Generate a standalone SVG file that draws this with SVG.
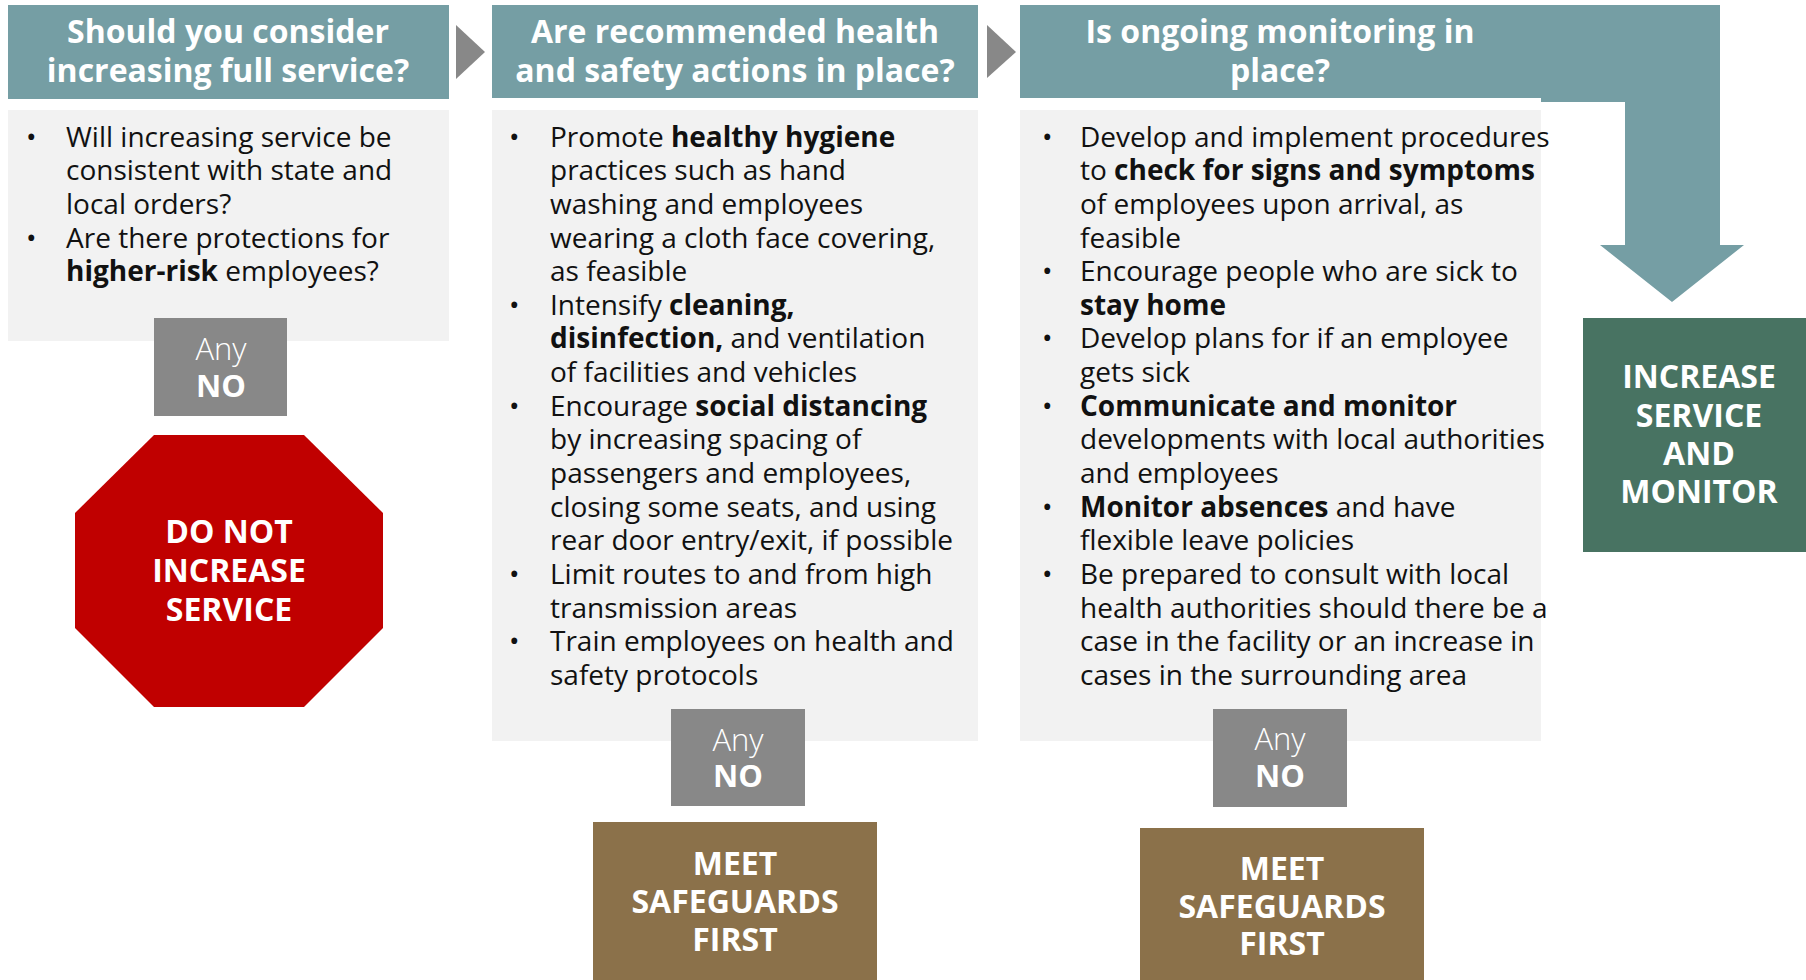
<svg xmlns="http://www.w3.org/2000/svg" width="1806" height="980" viewBox="0 0 1806 980">
<style>
text{font-family:"Open Sans","Noto Sans","Liberation Sans",sans-serif}
.hdr{fill:#759EA4}
.hd{fill:#fff;font-size:32px;font-weight:700;text-anchor:middle}
.body{fill:#F2F2F2}
.t{fill:#111;font-size:28px}
.b{font-weight:700}
.nobox{fill:#888888}
.any{fill:#fff;font-size:31px;font-weight:300;text-anchor:middle}
.no{fill:#fff;font-size:31px;font-weight:700;text-anchor:middle}
.big{fill:#fff;font-size:32px;font-weight:700;text-anchor:middle}
.meet{fill:#8B714A}
.conn{fill:#888888}
</style>
<rect width="1806" height="980" fill="#fff"/>

<g id="col1">
<g id="header1">
<rect class="hdr" x="8" y="5" width="441" height="94"/>
<text class="hd" x="228" y="43">Should you consider</text>
<text class="hd" x="228" y="82">increasing full service?</text>
</g>
<g id="body1">
<rect class="body" x="8" y="110" width="441" height="231"/>
<text class="t" x="26" y="146.5">•</text>
<text class="t" x="66" y="146.5">Will increasing service be</text>
<text class="t" x="66" y="180.2">consistent with state and</text>
<text class="t" x="66" y="213.8">local orders?</text>
<text class="t" x="26" y="247.5">•</text>
<text class="t" x="66" y="247.5">Are there protections for</text>
<text class="t" x="66" y="281.1"><tspan class="b">higher-risk</tspan> employees?</text>
</g>
<g id="anyno1">
<rect class="nobox" x="154" y="318" width="133" height="98"/>
<text class="any" x="221" y="360">Any</text>
<text class="no" x="221" y="397">NO</text>
</g>
<g id="stop">
<polygon points="154,435 304,435 383,513 383,628 304,707 154,707 75,628 75,513" fill="#C00000"/>
<text class="big" x="229" y="543">DO NOT</text>
<text class="big" x="229" y="582">INCREASE</text>
<text class="big" x="229" y="621">SERVICE</text>
</g>
</g>

<g id="col2">
<g id="header2">
<rect class="hdr" x="492" y="5" width="486" height="93"/>
<text class="hd" x="735" y="43">Are recommended health</text>
<text class="hd" x="735" y="82">and safety actions in place?</text>
</g>
<g id="body2">
<rect class="body" x="492" y="110" width="486" height="631"/>
<text class="t" x="509" y="146.5">•</text>
<text class="t" x="550" y="146.5">Promote <tspan class="b">healthy hygiene</tspan></text>
<text class="t" x="550" y="180.2">practices such as hand</text>
<text class="t" x="550" y="213.8">washing and employees</text>
<text class="t" x="550" y="247.5">wearing a cloth face covering,</text>
<text class="t" x="550" y="281.1">as feasible</text>
<text class="t" x="509" y="314.8">•</text>
<text class="t" x="550" y="314.8">Intensify <tspan class="b">cleaning,</tspan></text>
<text class="t" x="550" y="348.4"><tspan class="b">disinfection,</tspan> and ventilation</text>
<text class="t" x="550" y="382.1">of facilities and vehicles</text>
<text class="t" x="509" y="415.7">•</text>
<text class="t" x="550" y="415.7">Encourage <tspan class="b">social distancing</tspan></text>
<text class="t" x="550" y="449.4">by increasing spacing of</text>
<text class="t" x="550" y="483">passengers and employees,</text>
<text class="t" x="550" y="516.7">closing some seats, and using</text>
<text class="t" x="550" y="550.3">rear door entry/exit, if possible</text>
<text class="t" x="509" y="584">•</text>
<text class="t" x="550" y="584">Limit routes to and from high</text>
<text class="t" x="550" y="617.6">transmission areas</text>
<text class="t" x="509" y="651.3">•</text>
<text class="t" x="550" y="651.3">Train employees on health and</text>
<text class="t" x="550" y="684.9">safety protocols</text>
</g>
<g id="anyno2">
<rect class="nobox" x="671" y="709" width="134" height="97"/>
<text class="any" x="738" y="751">Any</text>
<text class="no" x="738" y="787">NO</text>
</g>
<g id="meet2">
<rect class="meet" x="593" y="822" width="284" height="158"/>
<text class="big" x="735" y="875">MEET</text>
<text class="big" x="735" y="913">SAFEGUARDS</text>
<text class="big" x="735" y="951">FIRST</text>
</g>
</g>

<g id="connectors">
<polygon class="conn" points="456,25 485,52 456,79"/>
<polygon class="conn" points="987,25 1016,52 987,78"/>
<path class="hdr" d="M1020,5 H1720 V245 H1744 L1672,302 L1600,245 H1625 V102 H1541 V98 H1020 Z"/>
</g>

<g id="col3">
<g id="header3">
<rect class="hdr" x="1020" y="5" width="521" height="93"/>
<text class="hd" x="1280" y="43">Is ongoing monitoring in</text>
<text class="hd" x="1280" y="82">place?</text>
</g>
<g id="body3">
<rect class="body" x="1020" y="110" width="521" height="631"/>
<text class="t" x="1042" y="146.5">•</text>
<text class="t" x="1080" y="146.5">Develop and implement procedures</text>
<text class="t" x="1080" y="180.2">to <tspan class="b">check for signs and symptoms</tspan></text>
<text class="t" x="1080" y="213.8">of employees upon arrival, as</text>
<text class="t" x="1080" y="247.5">feasible</text>
<text class="t" x="1042" y="281.1">•</text>
<text class="t" x="1080" y="281.1">Encourage people who are sick to</text>
<text class="t" x="1080" y="314.8"><tspan class="b">stay home</tspan></text>
<text class="t" x="1042" y="348.4">•</text>
<text class="t" x="1080" y="348.4">Develop plans for if an employee</text>
<text class="t" x="1080" y="382.1">gets sick</text>
<text class="t" x="1042" y="415.7">•</text>
<text class="t" x="1080" y="415.7"><tspan class="b">Communicate and monitor</tspan></text>
<text class="t" x="1080" y="449.4">developments with local authorities</text>
<text class="t" x="1080" y="483">and employees</text>
<text class="t" x="1042" y="516.7">•</text>
<text class="t" x="1080" y="516.7"><tspan class="b">Monitor absences</tspan> and have</text>
<text class="t" x="1080" y="550.3">flexible leave policies</text>
<text class="t" x="1042" y="584">•</text>
<text class="t" x="1080" y="584">Be prepared to consult with local</text>
<text class="t" x="1080" y="617.6">health authorities should there be a</text>
<text class="t" x="1080" y="651.3">case in the facility or an increase in</text>
<text class="t" x="1080" y="684.9">cases in the surrounding area</text>
</g>
<g id="anyno3">
<rect class="nobox" x="1213" y="709" width="134" height="98"/>
<text class="any" x="1280" y="750">Any</text>
<text class="no" x="1280" y="787">NO</text>
</g>
<g id="meet3">
<rect class="meet" x="1140" y="828" width="284" height="152"/>
<text class="big" x="1282" y="880">MEET</text>
<text class="big" x="1282" y="918">SAFEGUARDS</text>
<text class="big" x="1282" y="955">FIRST</text>
</g>
<g id="increase">
<rect x="1583" y="318" width="223" height="234" fill="#487362"/>
<text class="big" x="1699" y="388">INCREASE</text>
<text class="big" x="1699" y="427">SERVICE</text>
<text class="big" x="1699" y="465">AND</text>
<text class="big" x="1699" y="503">MONITOR</text>
</g>
</g>
</svg>
